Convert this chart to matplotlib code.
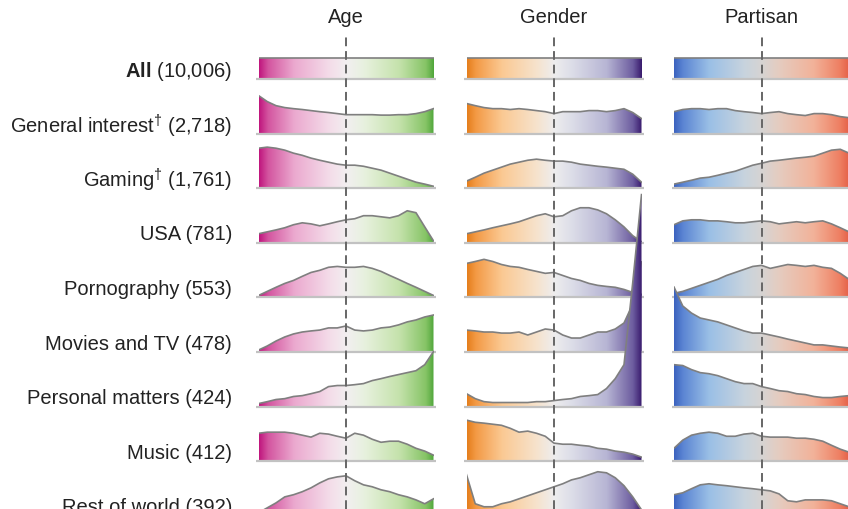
import numpy as np
import matplotlib
matplotlib.use("Agg")
import matplotlib.pyplot as plt
from matplotlib.colors import LinearSegmentedColormap
from matplotlib import transforms

plt.rcParams['font.family'] = ['Liberation Sans', 'DejaVu Sans']
plt.rcParams['mathtext.fontset'] = 'custom'
plt.rcParams['mathtext.rm'] = 'Liberation Sans'
plt.rcParams['mathtext.bf'] = 'Liberation Sans:bold'
plt.rcParams['mathtext.it'] = 'Liberation Sans:italic'

# ---------------- data ----------------
columns = ["Age", "Gender", "Partisan"]
row_labels = [r"$\mathbf{All}$ (10,006)",
              r"General interest$^{\dagger}$ (2,718)",
              r"Gaming$^{\dagger}$ (1,761)",
              "USA (781)",
              "Pornography (553)",
              "Movies and TV (478)",
              "Personal matters (424)",
              "Music (412)",
              "Rest of world (392)"]
median_pos = [0.5, 0.5, 0.5]

all_density = [1.0] * 21

age = [
    all_density,
    [1.77,1.49,1.30,1.21,1.16,1.12,1.07,1.02,0.98,0.93,0.88,0.88,0.88,0.88,0.86,0.86,0.88,0.88,0.93,1.02,1.16],
    [1.86,1.91,1.86,1.77,1.63,1.53,1.40,1.30,1.21,1.12,1.07,1.07,1.02,0.93,0.84,0.70,0.56,0.42,0.28,0.19,0.09],
    [0.42,0.51,0.60,0.70,0.84,0.93,0.88,0.79,0.88,0.98,1.07,1.12,1.26,1.26,1.21,1.16,1.26,1.49,1.40,0.74,0.09],
    [0.09,0.28,0.47,0.65,0.79,0.98,1.16,1.26,1.40,1.44,1.40,1.40,1.44,1.35,1.21,1.02,0.84,0.65,0.47,0.28,0.09],
    [0.09,0.28,0.51,0.70,0.84,0.93,0.98,1.02,1.12,1.12,1.21,1.02,0.98,1.02,1.12,1.16,1.26,1.40,1.49,1.63,1.72],
    [0.14,0.23,0.33,0.37,0.47,0.51,0.60,0.70,0.93,0.98,0.98,1.02,1.07,1.21,1.30,1.40,1.49,1.58,1.67,1.95,2.56],
    [1.30,1.35,1.35,1.35,1.30,1.21,1.12,1.30,1.26,1.16,1.07,1.30,1.21,1.02,0.88,0.93,0.93,0.79,0.60,0.47,0.28],
    [0.14,0.37,0.60,0.88,0.98,1.12,1.30,1.53,1.72,1.81,1.86,1.63,1.44,1.35,1.21,1.12,0.98,0.88,0.74,0.56,0.79],
]
gender = [
    all_density,
    [1.40,1.30,1.21,1.16,1.16,1.12,1.16,1.12,1.07,1.02,0.93,1.02,1.02,1.02,1.07,1.07,1.02,1.07,1.16,0.98,0.70],
    [0.33,0.51,0.70,0.84,0.98,1.12,1.21,1.30,1.35,1.30,1.26,1.26,1.21,1.12,1.07,1.02,0.98,0.93,0.88,0.65,0.28],
    [0.42,0.51,0.60,0.70,0.79,0.88,0.98,1.12,1.26,1.35,1.21,1.26,1.49,1.63,1.63,1.53,1.35,1.07,0.74,0.33,0.05],
    [1.58,1.67,1.77,1.67,1.53,1.44,1.40,1.30,1.21,1.12,1.16,1.02,0.88,0.79,0.65,0.56,0.51,0.47,0.37,0.23,0.14],
    [1.02,0.98,0.93,0.93,0.88,0.88,0.93,0.79,0.93,1.07,1.02,0.79,0.65,0.65,0.79,0.93,0.93,1.07,1.35,2.23,4.19],
    [0.60,0.37,0.23,0.19,0.19,0.19,0.19,0.19,0.23,0.23,0.28,0.33,0.37,0.47,0.51,0.56,0.84,1.30,1.95,5.77,9.86],
    [1.91,1.81,1.77,1.72,1.67,1.53,1.35,1.40,1.30,1.16,0.84,0.79,0.79,0.74,0.70,0.60,0.56,0.47,0.42,0.33,0.19],
    [1.91,0.56,0.42,0.42,0.56,0.65,0.79,0.93,1.07,1.21,1.35,1.49,1.67,1.77,1.91,2.05,2.00,1.77,1.40,0.88,0.28],
]
partisan = [
    all_density,
    [1.02,1.12,1.16,1.16,1.12,1.16,1.16,1.07,1.02,0.98,0.93,0.98,1.02,0.93,0.88,0.84,0.93,0.93,0.88,0.79,0.74],
    [0.19,0.28,0.37,0.47,0.51,0.60,0.70,0.79,0.93,1.07,1.16,1.26,1.30,1.35,1.40,1.44,1.49,1.63,1.77,1.81,1.63],
    [0.84,1.02,1.07,1.07,1.02,1.02,0.98,0.93,0.93,0.98,1.02,0.98,0.88,0.93,0.98,0.93,0.98,1.02,0.88,0.70,0.51],
    [0.19,0.28,0.42,0.56,0.70,0.84,1.02,1.16,1.30,1.44,1.49,1.35,1.44,1.53,1.49,1.44,1.49,1.40,1.35,1.12,0.84],
    [3.02,2.14,1.81,1.58,1.49,1.40,1.26,1.12,0.98,0.88,0.88,0.79,0.70,0.60,0.51,0.42,0.33,0.33,0.28,0.23,0.19],
    [1.95,1.91,1.72,1.58,1.53,1.44,1.30,1.16,1.07,1.07,0.93,0.84,0.74,0.70,0.60,0.56,0.47,0.42,0.42,0.47,0.51],
    [0.60,0.98,1.21,1.30,1.35,1.30,1.16,1.16,1.26,1.30,1.16,1.12,1.12,1.12,1.07,1.07,1.02,0.93,0.74,0.56,0.42],
    [0.98,1.07,1.26,1.44,1.49,1.44,1.40,1.35,1.30,1.26,1.21,1.16,1.02,0.70,0.65,0.74,0.74,0.74,0.70,0.56,0.42],
]
column_data = [age, gender, partisan]
percentile = np.linspace(0, 1, 21)

# ---------------- colours ----------------
cmaps = [
    LinearSegmentedColormap.from_list("age", [
        (0.0, "#C0167E"), (0.05, "#D3549F"), (0.2, "#EBA9CF"), (0.4, "#F4DCE9"),
        (0.5, "#F2EFF0"), (0.6, "#E7F1DE"), (0.8, "#C4E2AB"), (0.95, "#86C466"), (1.0, "#4AA336")]),
    LinearSegmentedColormap.from_list("gender", [
        (0.0, "#E57F1D"), (0.05, "#F39A45"), (0.2, "#FBC993"), (0.4, "#F6E3CD"),
        (0.5, "#EEEDEE"), (0.6, "#DCDDE8"), (0.8, "#B7B5D4"), (0.95, "#6D5DA0"), (1.0, "#3A1C6E")]),
    LinearSegmentedColormap.from_list("partisan", [
        (0.0, "#3C63BF"), (0.05, "#5B85D3"), (0.2, "#9ABFE6"), (0.4, "#C7D3DE"),
        (0.5, "#D6D4D3"), (0.6, "#E5CCC0"), (0.8, "#F2B299"), (0.95, "#EE7F62"), (1.0, "#E5624A")]),
]

# ---------------- layout ----------------
W, H = 848, 509
fig = plt.figure(figsize=(W / 100, H / 100), dpi=100)
col_left = [258.5, 466.5, 674]
col_w = 175
ppu = 21.5            # pixels per density unit
row_gap = 54.6 / ppu  # data units between baselines
base0_px = 79
y_top = base0_px / ppu
y_bot = -(H - base0_px) / ppu
FS = 14.5

grad = np.linspace(0, 1, 256).reshape(1, -1)

for c, (name, data, cmap) in enumerate(zip(columns, column_data, cmaps)):
    ax = fig.add_axes([col_left[c] / W, 0, col_w / W, 1])
    ax.axis('off')
    for i, dens in enumerate(data):
        dens = np.asarray(dens, dtype=float)
        base = -i * row_gap
        z = 2 + i * 0.5
        poly = ax.fill_between(percentile, base, base + dens, facecolor='none',
                               edgecolor='none', zorder=z)
        im = ax.imshow(grad, extent=(0, 1, base, base + dens.max()), aspect='auto',
                       cmap=cmap, interpolation='bilinear', zorder=z, origin='lower')
        im.set_clip_path(poly.get_paths()[0], transform=ax.transData)
        ax.plot(percentile, base + dens, color='#7f7f7f', lw=1.2, zorder=z + 0.1,
                solid_joinstyle='round')
        ax.plot([-0.012, 1.016], [base, base], color='#c2c2c2', lw=1.6,
                zorder=z + 0.2, clip_on=False, solid_capstyle='butt')
    ax.axvline(median_pos[c], ymin=0, ymax=1 - 37 / H, color='#666666', lw=1.4,
               dashes=(4.5, 2.5), zorder=50)
    ax.text(0.5, 1 - 23 / H, name, transform=ax.transAxes, ha='center', va='baseline',
            fontsize=FS, color='#222222')
    ax.set_xlim(0, 1)
    ax.set_ylim(y_bot, y_top)
    if c == 0:
        trans = transforms.blended_transform_factory(fig.transFigure, ax.transData)
        for i, lab in enumerate(row_labels):
            lift = 0.3 if 'dagger' in lab else 2.5
            ax.text(232 / W, -i * row_gap + lift / ppu, lab, transform=trans,
                    ha='right', va='baseline', fontsize=FS, color='#222222')

fig.savefig("out.png", dpi=100)
